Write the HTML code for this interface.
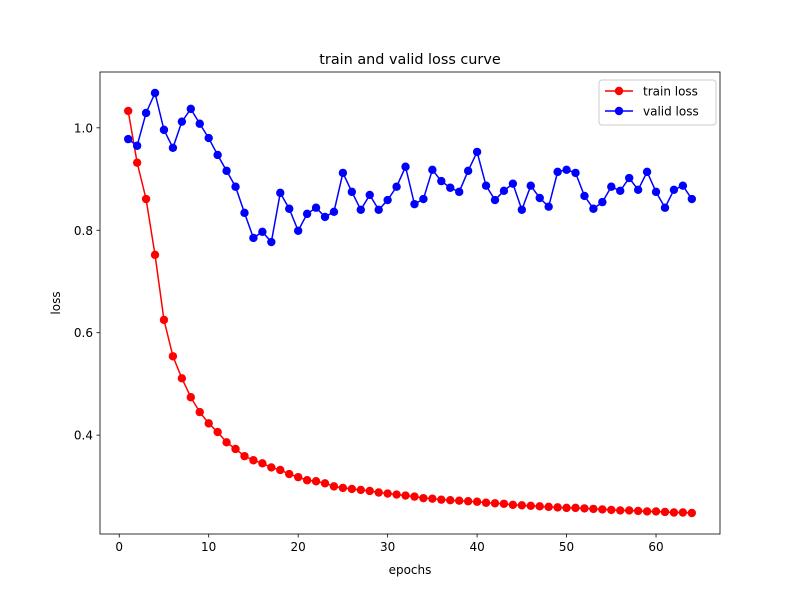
<!DOCTYPE html>
<html><head><meta charset="utf-8"><style>
body{margin:0;background:#fff;}
svg text{font-family:"DejaVu Sans","Liberation Sans",sans-serif;fill:#000;}
</style></head><body>
<svg id="chart" width="800" height="600"></svg>
<script>
const epochs = Array.from({length:64},(_,i)=>i+1);
const trainLoss = [1.033,0.932,0.861,0.752,0.625,0.554,0.511,0.474,0.445,0.423,0.406,0.386,0.373,0.359,0.351,0.345,0.337,0.332,0.324,0.318,0.312,0.310,0.306,0.300,0.297,0.295,0.293,0.291,0.288,0.286,0.284,0.282,0.280,0.277,0.276,0.274,0.273,0.272,0.271,0.270,0.268,0.267,0.266,0.264,0.263,0.262,0.261,0.260,0.259,0.258,0.258,0.257,0.256,0.255,0.254,0.253,0.253,0.252,0.251,0.251,0.250,0.249,0.249,0.248];
const validLoss = [0.978,0.965,1.029,1.068,0.996,0.961,1.012,1.037,1.008,0.980,0.947,0.916,0.885,0.834,0.785,0.797,0.777,0.873,0.842,0.799,0.832,0.844,0.826,0.836,0.912,0.875,0.840,0.869,0.840,0.859,0.885,0.924,0.851,0.861,0.918,0.896,0.883,0.875,0.916,0.953,0.887,0.859,0.877,0.891,0.840,0.887,0.863,0.846,0.914,0.918,0.912,0.867,0.842,0.855,0.885,0.877,0.902,0.879,0.914,0.875,0.844,0.879,0.887,0.861];
const xTicks = [0,10,20,30,40,50,60];
const yTicks = [0.4,0.6,0.8,1.0];
const yTickLabels = ["0.4","0.6","0.8","1.0"];

const svg = document.getElementById('chart');
const NS = 'http://www.w3.org/2000/svg';
const L=100,R=720,T=72,B=534;
const all = trainLoss.concat(validLoss);
const xmin0=Math.min(...epochs),xmax0=Math.max(...epochs);
const ymin0=Math.min(...all),ymax0=Math.max(...all);
const xm=(xmax0-xmin0)*0.05, ym=(ymax0-ymin0)*0.05;
const xs=v=>L+(v-(xmin0-xm))/((xmax0+xm)-(xmin0-xm))*(R-L);
const ys=v=>B-(v-(ymin0-ym))/((ymax0+ym)-(ymin0-ym))*(B-T);
function el(tag,attrs,parent){const e=document.createElementNS(NS,tag);for(const k in attrs)e.setAttribute(k,attrs[k]);(parent||svg).appendChild(e);return e;}

function series(vals,color,name){
  const g=el('g',{});
  
  
  el('polyline',{points:vals.map((v,i)=>xs(epochs[i])+','+ys(v)).join(' '),fill:'none',stroke:color,'stroke-width':1.5},g);
  vals.forEach((v,i)=>{
    const c=el('circle',{cx:xs(epochs[i]),cy:ys(v),r:4.2,fill:color},g);
    
    
  });
}
series(trainLoss,'#ff0000','train-loss');
series(validLoss,'#0000ff','valid-loss');

const frame=el('rect',{x:L,y:T,width:R-L,height:B-T,fill:'none',stroke:'#000','stroke-width':0.8});



xTicks.forEach(t=>{
  const x=xs(t);
  el('line',{x1:x,y1:B,x2:x,y2:B+3.5,stroke:'#000','stroke-width':0.8});
  const tx=el('text',{x:x,y:B+17,'font-size':12,'text-anchor':'middle'});tx.textContent=t;
  
  
});
yTicks.forEach((t,i)=>{
  const y=ys(t);
  el('line',{x1:L-3.5,y1:y,x2:L,y2:y,stroke:'#000','stroke-width':0.8});
  const tx=el('text',{x:L-7,y:y+4.5,'font-size':12,'text-anchor':'end'});tx.textContent=yTickLabels[i];
  
  
});
const xt=el('text',{x:(L+R)/2,y:574,'font-size':12,'text-anchor':'middle'});xt.textContent='epochs';


const yt=el('text',{x:0,y:0,'font-size':12,'text-anchor':'middle',transform:'translate(60,'+((T+B)/2)+') rotate(-90)'});yt.textContent='loss';


const ti=el('text',{x:(L+R)/2,y:64,'font-size':14.4,'text-anchor':'middle'});ti.textContent='train and valid loss curve';



const lg=el('g',{});


el('rect',{x:599,y:80,width:117,height:45,rx:3,fill:'#fff','fill-opacity':0.8,stroke:'#ccc','stroke-width':1},lg);
[['train loss','#ff0000',91],['valid loss','#0000ff',111]].forEach(([lbl,c,y])=>{
  const e=el('g',{},lg);
  
  
  el('line',{x1:605,y1:y,x2:633,y2:y,stroke:c,'stroke-width':1.5},e);
  el('circle',{cx:619,cy:y,r:4.2,fill:c},e);
  const tx=el('text',{x:643,y:y+4.5,'font-size':12},e);tx.textContent=lbl;
});
</script>
</body></html>
